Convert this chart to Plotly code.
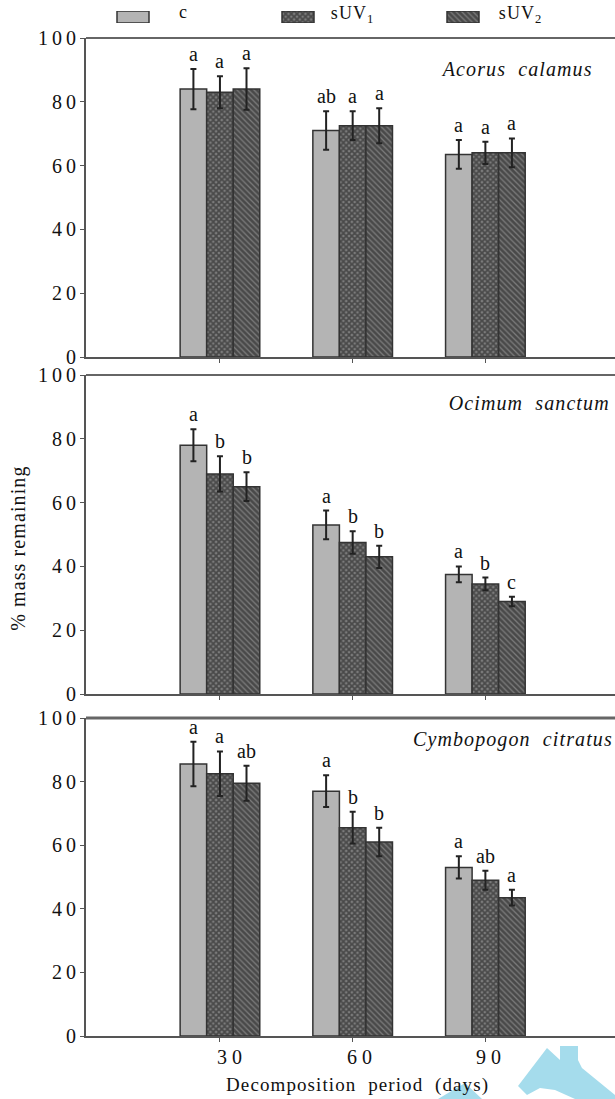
import plotly.graph_objects as go

W, H = 615, 1099
periods = [30, 60, 90]
period_labels = ["3 0", "6 0", "9 0"]
tick_vals = [0, 20, 40, 60, 80, 100]
tick_labels = ["0", "2\u20090", "4\u20090", "6\u20090", "8\u20090", "1\u20090\u20090"]
series_names = ["c", "sUV<sub>1</sub>", "sUV<sub>2</sub>"]

acorus_c = [84, 71, 63.5]
acorus_s1 = [83, 72.5, 64]
acorus_s2 = [84, 72.5, 64]
acorus_c_err = [6.3, 6, 4.5]
acorus_s1_err = [5, 4.5, 3.5]
acorus_s2_err = [6.5, 5.5, 4.5]
acorus_letters = [["a", "ab", "a"], ["a", "a", "a"], ["a", "a", "a"]]

ocimum_c = [78, 53, 37.5]
ocimum_s1 = [69, 47.5, 34.5]
ocimum_s2 = [65, 43, 29]
ocimum_c_err = [5, 4.5, 2.5]
ocimum_s1_err = [5.5, 3.5, 2]
ocimum_s2_err = [4.5, 3.5, 1.5]
ocimum_letters = [["a", "a", "a"], ["b", "b", "b"], ["b", "b", "c"]]

cymbo_c = [85.5, 77, 53]
cymbo_s1 = [82.5, 65.5, 49]
cymbo_s2 = [79.5, 61, 43.5]
cymbo_c_err = [7, 5, 3.5]
cymbo_s1_err = [7, 5, 3]
cymbo_s2_err = [5.5, 4.5, 2.5]
cymbo_letters = [["a", "a", "a"], ["a", "b", "ab"], ["ab", "b", "a"]]

panels = [
    ("<i>Acorus\u00a0\u00a0calamus</i>", 38, 357, 587, 69,
     [acorus_c, acorus_s1, acorus_s2], [acorus_c_err, acorus_s1_err, acorus_s2_err], acorus_letters),
    ("<i>Ocimum\u00a0\u00a0sanctum</i>", 375, 694, 603, 403,
     [ocimum_c, ocimum_s1, ocimum_s2], [ocimum_c_err, ocimum_s1_err, ocimum_s2_err], ocimum_letters),
    ("<i>Cymbopogon\u00a0\u00a0citratus</i>", 718, 1036, 604, 739,
     [cymbo_c, cymbo_s1, cymbo_s2], [cymbo_c_err, cymbo_s1_err, cymbo_s2_err], cymbo_letters),
]

FONT = "Liberation Serif"
GREY = "#555555"
fig = go.Figure()
annots, shapes = [], []
offsets = [-6, 0, 6]


def bar_style(k):
    if k == 0:
        return dict(color="#b4b4b4")
    return dict(color="#666666",
                pattern=dict(shape="x" if k == 1 else "\\", fgcolor="#161616", bgcolor="#7c7c7c",
                             size=4, solidity=0.68))


for i, (title, top, bottom, tx, ty, vals, errs, letters) in enumerate(panels):
    s = "" if i == 0 else str(i + 1)
    for k in range(3):
        fig.add_trace(go.Bar(
            x=periods, y=vals[k], xaxis="x" + s, yaxis="y" + s, showlegend=False,
            marker=dict(line=dict(color="#333333", width=1.5), **bar_style(k)),
            error_y=dict(type="data", array=errs[k], color="#222222", thickness=2, width=3),
        ))
        for j, p in enumerate(periods):
            annots.append(dict(x=p + offsets[k], y=vals[k][j] + errs[k][j], text=letters[k][j],
                               xref="x" + s, yref="y" + s, showarrow=False, yanchor="bottom",
                               yshift=2, font=dict(family=FONT, size=20, color="#111")))
    fig.update_layout({
        "xaxis" + s: dict(domain=[86 / W, 1], range=[-0.28, 119.3], tickvals=periods, automargin=False,
                          showticklabels=False, ticks="outside", ticklen=4, tickcolor=GREY,
                          showgrid=False, zeroline=False, showline=True, linecolor=GREY,
                          linewidth=2, anchor="y" + s, fixedrange=True),
        "yaxis" + s: dict(domain=[1 - bottom / H, 1 - top / H], range=[0, 100], tickvals=tick_vals,
                          automargin=False,
                          ticktext=tick_labels, ticks="outside", ticklen=4, tickcolor=GREY,
                          tickfont=dict(family=FONT, size=20, color="#111"),
                          showgrid=False, zeroline=False, showline=True, linecolor=GREY,
                          linewidth=2, anchor="x" + s, fixedrange=True),
    })
    shapes.append(dict(type="line", xref="paper", yref="paper", x0=86 / W, x1=1,
                       y0=1 - top / H, y1=1 - top / H, line=dict(color="#666666", width=3 if i == 2 else 2)))
    annots.append(dict(x=tx / W, y=1 - ty / H, text=title, xref="paper", yref="paper", showarrow=False,
                       xanchor="right", yanchor="middle", font=dict(family=FONT, size=20, color="#111")))

# legend key, drawn as bars on a hidden axis spanning the top strip
legend_x = [133, 298, 463]
legend_w = 32
for k in range(3):
    fig.add_trace(go.Bar(x=[legend_x[k]], y=[1], width=[legend_w], xaxis="x4", yaxis="y4", showlegend=False,
                         marker=dict(line=dict(color="#333333", width=1.5), **bar_style(k))))
fig.update_layout(
    xaxis4=dict(domain=[0, 1], range=[0, W], visible=False, anchor="y4", fixedrange=True, automargin=False),
    yaxis4=dict(domain=[1 - 23 / H, 1 - 11 / H], range=[0, 1], visible=False, anchor="x4", fixedrange=True,
                automargin=False),
)
for txt, x, anchor, yy in zip(series_names, [183, 331, 499], ["center", "left", "left"], [12, 15, 15]):
    annots.append(dict(x=x / W, y=1 - yy / H, xref="paper", yref="paper", text=txt, showarrow=False,
                       xanchor=anchor, yanchor="middle", font=dict(family=FONT, size=18, color="#111")))

for p, lab, sh in zip(periods, period_labels, [10, 7, 3]):
    annots.append(dict(x=p, y=1 - 1057 / H, xref="x3", yref="paper", text=lab, xshift=sh, showarrow=False,
                       xanchor="center", yanchor="middle", font=dict(family=FONT, size=20, color="#111")))

annots.append(dict(x=357 / W, y=1 - 1085 / H, xref="paper", yref="paper", showarrow=False,
                   xanchor="center", yanchor="middle",
                   text="Decomposition\u00a0\u00a0period\u00a0\u00a0(days)",
                   font=dict(family=FONT, size=19, color="#111")))
annots.append(dict(x=18 / W, y=1 - 548 / H, xref="paper", yref="paper", showarrow=False, textangle=-90,
                   xanchor="center", yanchor="middle",
                   text="%\u00a0mass\u00a0remaining", font=dict(family=FONT, size=20, color="#111")))


def px_path(points):
    return "M " + " L ".join(f"{x / W:.4f},{1 - y / H:.4f}" for x, y in points) + " Z"


wm = [[(438, 1099), (465, 1083), (482, 1099)],
      [(518, 1086), (547, 1048), (560, 1060), (560, 1046), (578, 1046), (578, 1060), (582, 1068),
       (615, 1095), (615, 1099), (575, 1099), (555, 1090), (540, 1088), (527, 1095)]]
for pts in wm:
    shapes.append(dict(type="path", xref="paper", yref="paper", path=px_path(pts),
                       fillcolor="#a5dcec", line=dict(width=0), layer="below"))

fig.update_layout(
    width=W, height=H, autosize=False, margin=dict(l=0, r=0, t=0, b=0),
    paper_bgcolor="white", plot_bgcolor="rgba(0,0,0,0)",
    barmode="group", bargap=0.4, bargroupgap=0, showlegend=False,
    annotations=annots, shapes=shapes,
    font=dict(family=FONT, color="#111"),
)
post = """
document.body.style.margin='0';
document.documentElement.style.overflow='hidden';
document.querySelectorAll('.annotation-text').forEach(function(t){
  if(t.textContent.length>5){t.style.letterSpacing='1.1px';}
});
"""
fig.write_html("out.html", config=dict(displayModeBar=False), post_script=post)
